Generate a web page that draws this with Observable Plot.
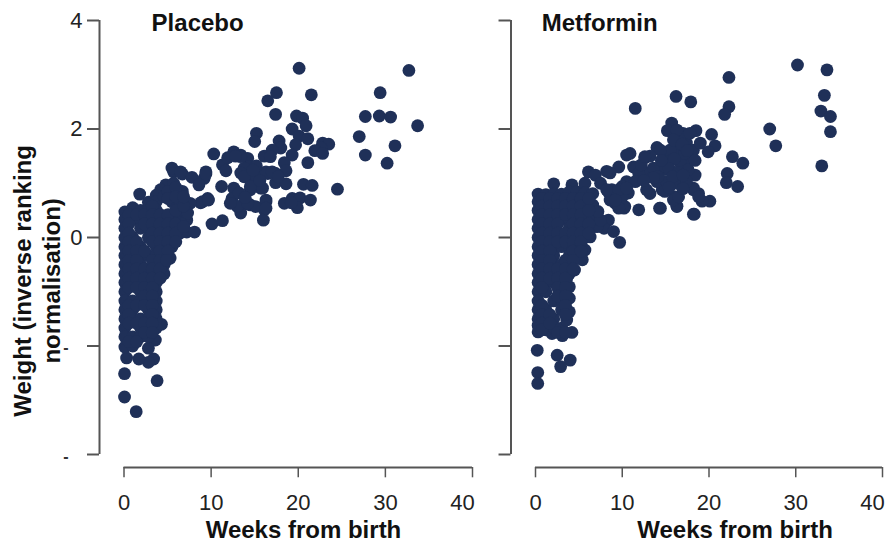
<!DOCTYPE html>
<html>
<head>
<meta charset="utf-8">
<script src="https://cdn.jsdelivr.net/npm/d3@7"></script>
<script src="https://cdn.jsdelivr.net/npm/@observablehq/plot@0.6"></script>
<style>
html,body{margin:0;padding:0;background:#fff}
#chart{display:flex;width:889px;height:544px}
svg{display:block;overflow:visible}
</style>
</head>
<body>
<div id="chart"></div>
<script>
const xTicks = [0, 10, 20, 30, 40];
const xLabels = [0, 10, 20, 30];
const xLastLabel = [40];
const yTicks = [-4, -2, 0, 2, 4];
const yLabels = [0, 2, 4];
const yDashes = [-2, -4];
const titles = ["Placebo", "Metformin"];
const xTitle = "Weeks from birth";
const yTitle = "Weight (inverse ranking\nnormalisation)";

// [weeks, weight]
const placeboSparse = [
[20.1,3.12],[32.7,3.08],[17.5,2.67],[16.5,2.52],[21.5,2.63],[29.4,2.67],[17.4,2.27],[27.7,2.23],[29.3,2.24],[30.6,2.22],[33.7,2.06],[27.0,1.86],[31.1,1.69],[27.7,1.52],[30.2,1.37],[24.5,0.89],
[19.8,2.24],[20.5,2.2],[20.9,2.06],[19.3,2.0],[20.1,1.87],[21.1,1.82],[19.7,1.71],[19.3,1.52],[15.2,1.92],[15.0,1.77],[17.8,1.78],[18.0,1.65],[17.0,1.61],[16.1,1.5],[16.8,1.49],[22.8,1.74],[23.5,1.72],[22.6,1.65],[21.9,1.6],[22.8,1.55],[21.1,1.38],[18.4,1.38],[18.6,1.23],[17.4,1.18],[16.5,1.18],[17.4,1.01],[18.6,0.99],[20.6,0.98],[21.6,0.96],[18.4,0.63],[19.3,0.72],[20.2,0.73],[21.4,0.69],[19.9,0.55],[16.3,0.66],[16.1,0.51],[16.0,0.32],
[13.4,1.52],[14.2,1.46],[14.3,1.31],[13.8,1.28],[13.4,1.19],[14.5,1.06],[14.9,1.0],[15.7,0.91],[14.5,0.88],[15.1,1.15],[13.6,0.6],[14.5,0.6],[13.4,0.45],[15.1,0.57],
[10.3,1.54],[11.3,1.34],[11.7,1.23],[9.4,1.21],[9.2,1.09],[11.2,0.94],[12.6,1.58],[13.4,1.49],[9.6,0.72],[8.8,0.64],[10.1,0.25],[11.3,0.31],[12.6,0.91],[12.4,0.72],[13,0.57],[12.2,0.63],[14.2,0.63],[16.3,0.69],[16.3,0.54],[13.8,1.12],[14.5,0.94],[15.9,0.91],[16.3,1.21],[17.0,1.21],
[15.2,1.32],[15.6,1.05],[13.2,0.82],[13.9,0.74],[17.7,1.12],[19.2,0.64],[11.9,1.47],[12.8,1.5],[14.8,1.24],
[1.8,0.8],[4.8,0.97],[4.2,0.88],[6.7,1.17],[7.8,1.11],[9.4,1.17],[8.6,0.97],[6.7,0.85],[7.6,0.63],[9,0.66],[9.7,0.69],[5.7,1.21],[5.5,1.28],[6.5,1.21],[5.7,1.0],
[4.3,-1.6],[3.6,-1.89],[3.4,-2.24],[2.8,-2.3],[1.7,-2.24],[0.3,-2.22],[0.06,-2.51],[3.8,-2.64],[0.06,-2.94],[1.4,-3.21],[2.8,-2.04]
];
const placeboDense = [
[0.1,0.47],[0.1,0.33],[0.1,0.17],[0.1,0],[0.1,-0.17],[0.1,-0.33],[0.1,-0.5],[0.1,-0.67],[0.1,-0.83],[0.1,-1],[0.1,-1.17],[0.1,-1.33],[0.1,-1.5],[0.1,-1.67],[0.1,-1.83],[0.1,-2.02],
[1,0.55],[1,0.33],[1,0],[1,-0.17],[1,-0.33],[1,-0.5],[1,-0.67],[1,-0.83],[1,-1.17],[1,-1.33],[1,-1.5],[1,-1.83],[1,-2],
[1.9,0.5],[1.9,0.33],[1.9,0.17],[1.9,-0.17],[1.9,-0.33],[1.9,-0.5],[1.9,-0.67],[1.9,-0.83],[1.9,-1],[1.9,-1.17],[1.9,-1.5],[1.9,-1.67],[1.9,-1.83],
[2.8,0.65],[2.8,0.5],[2.8,0.33],[2.8,0.17],[2.8,0],[2.8,-0.33],[2.8,-0.67],[2.8,-0.83],[2.8,-1],[2.8,-1.17],[2.8,-1.33],[2.8,-1.5],[2.8,-1.67],[2.8,-1.83],
[3.7,0.78],[3.7,0.66],[3.7,0.5],[3.7,0.33],[3.7,0.17],[3.7,0],[3.7,-0.17],[3.7,-0.33],[3.7,-0.5],[3.7,-0.67],[3.7,-0.83],[3.7,-1],[3.7,-1.17],[3.7,-1.33],[3.7,-1.5],[3.7,-1.67],
[4.6,0.75],[4.6,0.4],[4.6,0.25],[4.6,0.1],[4.6,-0.05],[4.6,-0.2],[4.6,-0.35],[4.6,-0.5],[4.6,-0.67],
[5.5,0.8],[5.5,0.66],[5.5,0.33],[5.5,0.17],[5.5,0],[5.5,-0.17],[5.3,-0.38],
[6.4,0.66],[6.4,0.4],[6.4,0.27],[6.4,0.08],
[7.2,0.32],[7.2,0.1],[8.1,0.1],[7.3,0.45],
[0.55,0.42],[0.55,0.25],[0.55,0.08],[0.55,-0.08],[0.55,-0.25],[0.55,-0.42],[0.55,-0.58],[0.55,-0.75],[0.55,-0.92],[0.55,-1.25],[0.55,-1.42],[0.55,-1.58],[0.55,-1.92],
[1.45,0.42],[1.45,-0.08],[1.45,-0.25],[1.45,-0.42],[1.45,-0.58],[1.45,-0.75],[1.45,-0.92],[1.45,-1.25],[1.45,-1.58],[1.45,-1.92],
[2.35,0.42],[2.35,0.25],[2.35,-0.25],[2.35,-0.58],[2.35,-0.75],[2.35,-0.92],[2.35,-1.08],[2.35,-1.25],[2.35,-1.58],[2.35,-1.75],
[3.25,0.58],[3.25,0.42],[3.25,0.25],[3.25,0.08],[3.25,-0.08],[3.25,-0.42],[3.25,-0.58],[3.25,-0.75],[3.25,-0.92],[3.25,-1.08],[3.25,-1.25],[3.25,-1.42],[3.25,-1.58],[3.25,-1.75],
[4.15,0.42],[4.15,0.25],[4.15,0.08],[4.15,-0.08],[4.15,-0.25],[4.15,-0.42],[4.15,-0.58],[4.15,-0.75],
[5.05,0.85],[5.05,0.72],[5.05,0.42],[5.05,0.25],[5.05,0.08],[5.05,-0.08],[5.05,-0.25],[4.9,-0.42],
[5.95,0.92],[5.95,0.75],[5.95,0.5],[5.95,0.25],[5.95,0.08],[5.95,-0.08],
[6.85,0.58],[6.85,0.2],[6.85,0.75]
];

const metforminSparse = [
[30.2,3.18],[33.6,3.09],[22.3,2.95],[16.2,2.6],[17.9,2.5],[33.3,2.62],[22.3,2.41],[21.8,2.27],[32.9,2.33],[34.0,2.23],[34.0,1.95],[27.0,2.0],[27.7,1.69],[33.0,1.32],[22.7,1.49],[23.9,1.37],[22.1,1.18],[22.0,1.01],[23.3,0.94],[20.3,1.9],[20.7,1.69],[19.9,1.58],[18.5,1.97],[15.7,2.11],[15.2,1.97],[18.2,0.43],[20.1,0.67],[19.2,0.67],[18.8,0.81],[18.2,0.91],[16.3,0.58],[14.4,0.54],[18.4,1.15],[16.1,0.75],
[11.5,2.38],[10.9,1.55],[10.5,1.52],[12.6,1.47],[14,1.66],[9.6,1.3],[8.6,1.19],[11.3,1.3],[12.8,1.19],[10.5,1.03],[10,0.94],[10.7,0.82],[11.9,0.51],[14.3,0.54],[16.3,0.57],[18.3,0.43],[13.2,0.81],[14.6,0.88],[15.9,0.69],[18.2,0.88],[18.8,0.75],
[16.7,1.56],[14.8,1.25],[13.6,1.28],[16.3,1.18],[15.1,1.43],[17.4,1.74],[16.3,1.74],[17.8,1.43],[16.7,1.37],[15.5,1.61],[17,1.92],[18.2,1.61],[19,1.74],[14.4,1.61],[17.2,1.55],[17.6,1.25],[16.3,1.98],[17.8,1.92],[15.9,1.8],[14,1.03],[15.1,1.03],[16.3,1],[17.4,1.03],[14.1,1.12],[12.8,0.88],[14.9,0.85],[16.5,0.75],[11.9,1.18],[11.5,1.03],[10,0.75],[9.2,0.63],[10.2,0.54],[8.8,0.88],
[16,1.45],[15.4,1.27],[16.9,1.72],[17.5,1.6],[18.4,1.42],[16.5,1.2],[13.2,1.5],[15.8,1.12],[17,1.15],[14.5,1.42],[13.6,1.1],[12.5,1.05],[15.4,0.92],[17,0.9],[12.2,1.34],
[2.1,0.99],[4.2,0.97],[6.1,1.21],[6.9,1.15],[7.5,1],[8.4,0.84],[9,0.78],[9.6,0.88],[10.5,0.91],[10.3,0.57],[9.6,0.54],[8.6,0.69],[8.4,0.32],[7.9,0.17],[9,0.11],[9.7,-0.09],[8.2,1.22],[8.2,0.88],[9.2,0.69],[12.6,1.49],
[0.2,-2.08],[2.5,-2.17],[4,-2.26],[2.9,-2.38],[0.26,-2.49],[0.26,-2.69],[4.2,-1.75],[3.1,-1.81],[1.9,-1.77]
];
const metforminDense = [
[0.3,0.8],[0.3,0.66],[0.3,0.5],[0.3,0.33],[0.3,0.17],[0.3,0],[0.3,-0.17],[0.3,-0.33],[0.3,-0.5],[0.3,-0.67],[0.3,-0.83],[0.3,-1],[0.3,-1.17],[0.3,-1.33],[0.3,-1.5],[0.3,-1.74],[0.3,-1.62],
[1.2,0.79],[1.2,0.66],[1.2,0.5],[1.2,0.33],[1.2,0.17],[1.2,0],[1.2,-0.17],[1.2,-0.33],[1.2,-0.5],[1.2,-0.67],[1.2,-0.83],[1.2,-1],[1.2,-1.33],[1.2,-1.5],[1.2,-1.7],
[2.1,0.8],[2.1,0.66],[2.1,0.5],[2.1,0.33],[2.1,0.17],[2.1,0],[2.1,-0.17],[2.1,-0.33],[2.1,-0.5],[2.1,-0.67],[2.1,-0.83],[2.1,-1.17],[2.1,-1.5],[2.1,-1.65],
[3,0.8],[3,0.66],[3,0.5],[3,0.33],[3,0],[3,-0.17],[3,-0.5],[3,-0.67],[3,-0.83],[3,-1],[3,-1.17],[3,-1.33],[3,-1.67],
[3.9,0.84],[3.9,0.66],[3.9,0.5],[3.9,0.33],[3.9,0.17],[3.9,0],[3.9,-0.17],[3.9,-0.33],[3.9,-0.5],[3.9,-0.67],[3.9,-0.91],[3.9,-1.12],[3.9,-1.37],[3.6,-1.52],[3.6,-0.75],
[4.8,0.84],[4.8,0.66],[4.8,0.5],[4.8,0.33],[4.8,0.17],[4.8,0],[4.8,-0.17],[4.8,-0.33],[4.5,-0.6],
[5.7,1],[5.7,0.82],[5.7,0.66],[5.7,0.5],[5.7,0.33],[5.7,0.17],[5.7,0],[5.7,-0.23],[5.4,-0.41],
[6.6,0.81],[6.6,0.6],[6.6,0.4],[6.6,0.2],[6.3,0.01],[7.1,0.2],[7.5,0.32],[7.2,0.48],
[0.75,0.72],[0.75,0.58],[0.75,0.42],[0.75,0.25],[0.75,0.08],[0.75,-0.08],[0.75,-0.25],[0.75,-0.42],[0.75,-0.58],[0.75,-0.75],[0.75,-0.92],[0.75,-1.25],[0.75,-1.42],[0.75,-1.58],[0.75,-1.7],
[1.65,0.72],[1.65,0.58],[1.65,0.42],[1.65,0.25],[1.65,0.08],[1.65,-0.08],[1.65,-0.25],[1.65,-0.42],[1.65,-0.58],[1.65,-0.75],[1.65,-1.42],[1.65,-1.58],
[2.55,0.72],[2.55,0.58],[2.55,0.42],[2.55,0.25],[2.55,0.08],[2.55,-0.08],[2.55,-0.58],[2.55,-0.75],[2.55,-0.92],[2.55,-1.08],[2.55,-1.75],
[3.45,0.72],[3.45,0.58],[3.45,0.42],[3.45,0.08],[3.45,-0.08],[3.45,-0.42],[3.45,-0.58],[3.45,-0.75],[3.45,-0.92],[3.45,-1.08],[3.45,-1.25],[3.45,-1.42],[3.45,-1.75],
[4.35,0.72],[4.35,0.58],[4.35,0.42],[4.35,0.25],[4.35,0.08],[4.35,-0.08],[4.35,-0.25],[4.35,-0.42],[4.35,-0.58],
[5.25,0.72],[5.25,0.58],[5.25,0.42],[5.25,0.25],[5.25,0.08],[5.25,-0.08],[5.25,-0.25],
[6.15,0.72],[6.15,0.5],[6.15,0.25],[6.15,0.08]
];

const navy = "#1f3058";
const axisColor = "#555555";
const font = "'Liberation Sans', Arial, sans-serif";

function panel(name, points, opts) {
  return Plot.plot({
    width: opts.width,
    height: 544,
    marginLeft: opts.left,
    marginRight: opts.right,
    marginTop: 20,
    marginBottom: 90,
    style: {fontFamily: font, background: "transparent", color: "#222"},
    x: {domain: [0, 40], axis: null},
    y: {domain: [-4, 4], axis: null},
    marks: [
      // y axis line and ticks, offset to the left of the frame
      Plot.ruleX([0], {x: 0, y1: -4, y2: 4, dx: -24.5, stroke: axisColor, strokeWidth: 2}),
      Plot.ruleY(yTicks, {y: d => d, x1: -1.38, x2: 0, dx: -24.5, stroke: axisColor, strokeWidth: 2}),
      opts.showLabels ? Plot.axisY({ticks: yLabels, tickSize: 0, tickPadding: 17, dx: -24.5, fontSize: 22, label: null, fill: "#222"}) : null,
      opts.showLabels ? Plot.text(yDashes, {x: 0, y: d => d, text: () => "-", dx: -58, dy: 2, fontSize: 16, fontWeight: "bold", fill: "#333"}) : null,
      // x axis line and ticks, offset below the frame
      Plot.ruleY([-4], {x1: 0, x2: 40, dy: 13, stroke: axisColor, strokeWidth: 2}),
      Plot.ruleX(xTicks, {x: d => d, y1: -4, y2: -4.19, dy: 13, stroke: axisColor, strokeWidth: 1.5}),
      Plot.axisX({ticks: xLabels, tickSize: 0, dy: 13, tickPadding: 27, fontSize: 22, label: null, fill: "#222"}),
      Plot.axisX({ticks: xLastLabel, tickSize: 0, dy: 13, dx: -10, tickPadding: 27, fontSize: 22, label: null, fill: "#222"}),
      Plot.text([name], {x: opts.titleX, y: 3.95, text: d => d, fontSize: 24, fontWeight: "bold", fill: "#111"}),
      Plot.text([xTitle], {x: opts.xTitleX, y: -5.4, text: d => d, fontSize: 24, fontWeight: "bold", fill: "#111"}),
      opts.showLabels ? Plot.text([yTitle], {x: -10.1, y: -0.8, text: d => d, rotate: -90, fontSize: 24, lineHeight: 1.2, fontWeight: "bold", fill: "#111"}) : null,
      Plot.dot(points, {x: d => d[0], y: d => d[1], r: 6.4, fill: navy, stroke: "none"})
    ]
  });
}

const chart = document.getElementById("chart");
chart.append(
  panel(titles[0], placeboSparse.concat(placeboDense), {width: 480, left: 123.5, right: 8, titleX: 8.45, xTitleX: 20.6, showLabels: true}),
  panel(titles[1], metforminSparse.concat(metforminDense), {width: 409, left: 55, right: 7, titleX: 7.4, xTitleX: 23, showLabels: false})
);
</script>
</body>
</html>
